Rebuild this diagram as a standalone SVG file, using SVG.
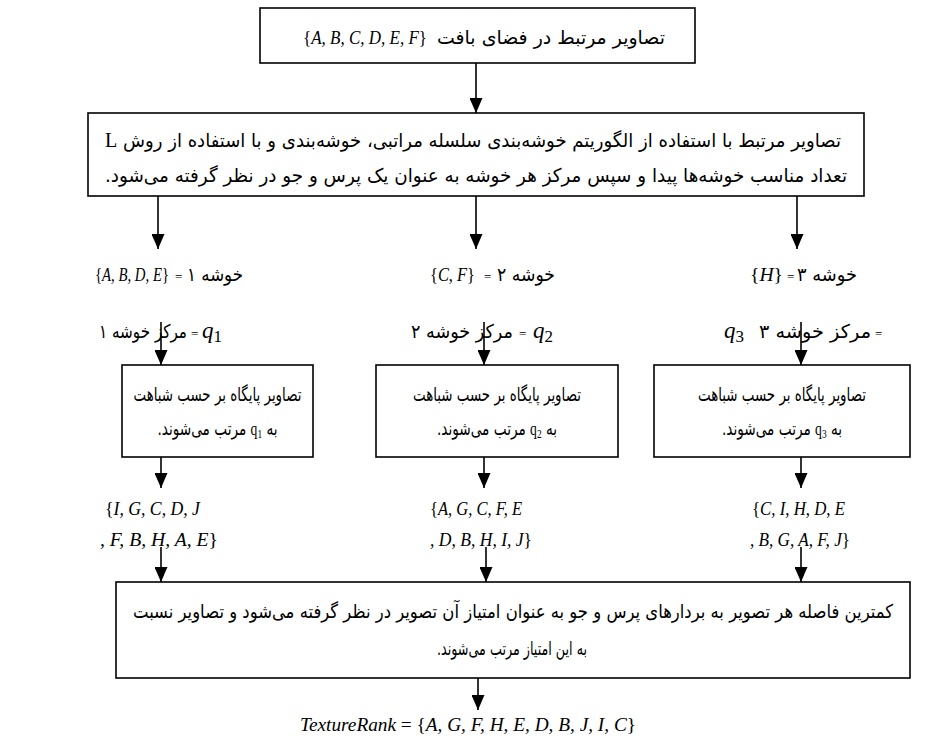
<svg xmlns="http://www.w3.org/2000/svg" width="946" height="740" viewBox="0 0 946 740">
<style>
.box{fill:#fff;stroke:#000;stroke-width:1.6}
.ln{stroke:#000;stroke-width:1.6;fill:none;marker-end:url(#ah)}
.fa{font-family:"DejaVu Sans",sans-serif;font-size:19px;direction:rtl;text-anchor:middle;fill:#000}
.m{font-family:"Liberation Serif",serif;font-style:italic;font-size:18px;fill:#000}
.r{font-family:"Liberation Serif",serif;font-size:20px;fill:#000}
.eq{font-family:"Liberation Serif",serif;font-size:13px;fill:#000}
.q{font-family:"Liberation Serif",serif;font-style:italic;font-size:23px;fill:#000}
.sub{font-style:normal;font-size:17px}
.n{font-style:normal}
</style>
<defs>
<marker id="ah" viewBox="0 0 15 13" refX="15" refY="6.5" markerWidth="15" markerHeight="13" markerUnits="userSpaceOnUse" orient="auto"><path d="M0,0 L15,6.5 L0,13 z" fill="#000"/></marker>
</defs>
<rect width="946" height="740" fill="#fff"/>
<g id="connectors">
<line class="ln" x1="476" y1="63" x2="476" y2="113"/>
<line class="ln" x1="158" y1="196" x2="158" y2="249"/>
<line class="ln" x1="476" y1="196" x2="476" y2="249"/>
<line class="ln" x1="797" y1="196" x2="797" y2="249"/>
<line class="ln" x1="161" y1="322" x2="161" y2="365"/>
<line class="ln" x1="484" y1="322" x2="484" y2="365"/>
<line class="ln" x1="801" y1="322" x2="801" y2="365"/>
<line class="ln" x1="161" y1="457" x2="161" y2="488"/>
<line class="ln" x1="484" y1="457" x2="484" y2="488"/>
<line class="ln" x1="801" y1="457" x2="801" y2="488"/>
<line class="ln" x1="161" y1="547" x2="161" y2="582"/>
<line class="ln" x1="486" y1="547" x2="486" y2="582"/>
<line class="ln" x1="801" y1="547" x2="801" y2="582"/>
<line class="ln" x1="478" y1="678" x2="478" y2="710"/>
</g>
<g id="n-input">
<rect class="box" x="260" y="8" width="435" height="55"/>
<text class="m" x="303" y="44" textLength="124" lengthAdjust="spacingAndGlyphs"><tspan class="n">{</tspan>A, B, C, D, E, F<tspan class="n">}</tspan></text>
<text class="fa" x="551" y="44" textLength="228" lengthAdjust="spacingAndGlyphs">تصاویر مرتبط در فضای بافت</text>
</g>
<g id="n-cluster">
<rect class="box" x="88" y="113" width="776" height="83"/>
<text class="r" x="105" y="147">L</text>
<text class="fa" x="482" y="147" textLength="718" lengthAdjust="spacingAndGlyphs">تصاویر مرتبط با استفاده از الگوریتم خوشه‌بندی سلسله مراتبی، خوشه‌بندی و با استفاده از روش</text>
<text class="fa" x="476" y="182" textLength="742" lengthAdjust="spacingAndGlyphs">تعداد مناسب خوشه‌ها پیدا و سپس مرکز هر خوشه به عنوان یک پرس و جو در نظر گرفته می‌شود.</text>
</g>
<g id="n-c1">
<text class="m" x="95" y="281" textLength="74" lengthAdjust="spacingAndGlyphs"><tspan class="n">{</tspan>A, B, D, E<tspan class="n">}</tspan></text>
<text class="eq" x="175" y="281">=</text>
<text class="fa" x="215" y="281" textLength="56" lengthAdjust="spacingAndGlyphs">خوشه ۱</text>
<text class="fa" x="143" y="338" textLength="88" lengthAdjust="spacingAndGlyphs">مرکز خوشه ۱</text>
<text class="eq" x="191" y="338">=</text>
<text class="q" x="202" y="338">q<tspan class="sub" dy="4">1</tspan></text>
</g>
<g id="n-c2">
<text class="m" x="430" y="281" textLength="45" lengthAdjust="spacingAndGlyphs"><tspan class="n">{</tspan>C, F<tspan class="n">}</tspan></text>
<text class="eq" x="484" y="281">=</text>
<text class="fa" x="526" y="281" textLength="58" lengthAdjust="spacingAndGlyphs">خوشه ۲</text>
<text class="fa" x="462" y="338" textLength="102" lengthAdjust="spacingAndGlyphs">مرکز خوشه ۲</text>
<text class="eq" x="519" y="338">=</text>
<text class="q" x="533" y="338">q<tspan class="sub" dy="4">2</tspan></text>
</g>
<g id="n-c3">
<text class="m" x="750" y="281" textLength="33" lengthAdjust="spacingAndGlyphs"><tspan class="n">{</tspan>H<tspan class="n">}</tspan></text>
<text class="eq" x="787" y="281">=</text>
<text class="fa" x="827" y="281" textLength="60" lengthAdjust="spacingAndGlyphs">خوشه ۳</text>
<text class="q" x="724" y="338">q<tspan class="sub" dy="4">3</tspan></text>
<text class="fa" x="815" y="338" textLength="112" lengthAdjust="spacingAndGlyphs">مرکز خوشه ۳</text>
<text class="eq" x="875" y="338">=</text>
</g>
<g id="n-sort1">
<rect class="box" x="122" y="365" width="191" height="92"/>
<text class="fa" x="217.5" y="401" textLength="168" lengthAdjust="spacingAndGlyphs">تصاویر پایگاه بر حسب شباهت</text>
<text class="fa" x="217.5" y="435" textLength="120" lengthAdjust="spacingAndGlyphs">به <tspan font-family="Liberation Serif" font-size="19">q<tspan font-size="13" dy="3">1</tspan></tspan><tspan dy="-3"> مرتب می‌شوند.</tspan></text>
</g>
<g id="n-sort2">
<rect class="box" x="376" y="365" width="242" height="92"/>
<text class="fa" x="497" y="401" textLength="168" lengthAdjust="spacingAndGlyphs">تصاویر پایگاه بر حسب شباهت</text>
<text class="fa" x="497" y="435" textLength="120" lengthAdjust="spacingAndGlyphs">به <tspan font-family="Liberation Serif" font-size="19">q<tspan font-size="13" dy="3">2</tspan></tspan><tspan dy="-3"> مرتب می‌شوند.</tspan></text>
</g>
<g id="n-sort3">
<rect class="box" x="654" y="365" width="256" height="92"/>
<text class="fa" x="782" y="401" textLength="168" lengthAdjust="spacingAndGlyphs">تصاویر پایگاه بر حسب شباهت</text>
<text class="fa" x="782" y="435" textLength="120" lengthAdjust="spacingAndGlyphs">به <tspan font-family="Liberation Serif" font-size="19">q<tspan font-size="13" dy="3">3</tspan></tspan><tspan dy="-3"> مرتب می‌شوند.</tspan></text>
</g>
<g id="n-list1">
<text class="m" x="105" y="515" textLength="95" lengthAdjust="spacingAndGlyphs"><tspan class="n">{</tspan>I, G, C, D, J</text>
<text class="m" x="100" y="546" textLength="118" lengthAdjust="spacingAndGlyphs">, F, B, H, A, E<tspan class="n">}</tspan></text>
</g>
<g id="n-list2">
<text class="m" x="430" y="515" textLength="92" lengthAdjust="spacingAndGlyphs"><tspan class="n">{</tspan>A, G, C, F, E</text>
<text class="m" x="430" y="546" textLength="102" lengthAdjust="spacingAndGlyphs">, D, B, H, I, J<tspan class="n">}</tspan></text>
</g>
<g id="n-list3">
<text class="m" x="752" y="515" textLength="93" lengthAdjust="spacingAndGlyphs"><tspan class="n">{</tspan>C, I, H, D, E</text>
<text class="m" x="750" y="546" textLength="100" lengthAdjust="spacingAndGlyphs">, B, G, A, F, J<tspan class="n">}</tspan></text>
</g>
<g id="n-rank">
<rect class="box" x="116" y="582" width="794" height="96"/>
<text class="fa" x="513" y="618" textLength="760" lengthAdjust="spacingAndGlyphs">کمترین فاصله هر تصویر به بردارهای پرس و جو به عنوان امتیاز آن تصویر در نظر گرفته می‌شود و تصاویر نسبت</text>
<text class="fa" x="512" y="655" textLength="150" lengthAdjust="spacingAndGlyphs">به این امتیاز مرتب می‌شوند.</text>
</g>
<g id="n-result">
<text class="m" x="300" y="731" textLength="336" lengthAdjust="spacingAndGlyphs">TextureRank <tspan class="n">= {</tspan>A, G, F, H, E, D, B, J, I, C<tspan class="n">}</tspan></text>
</g>
</svg>
